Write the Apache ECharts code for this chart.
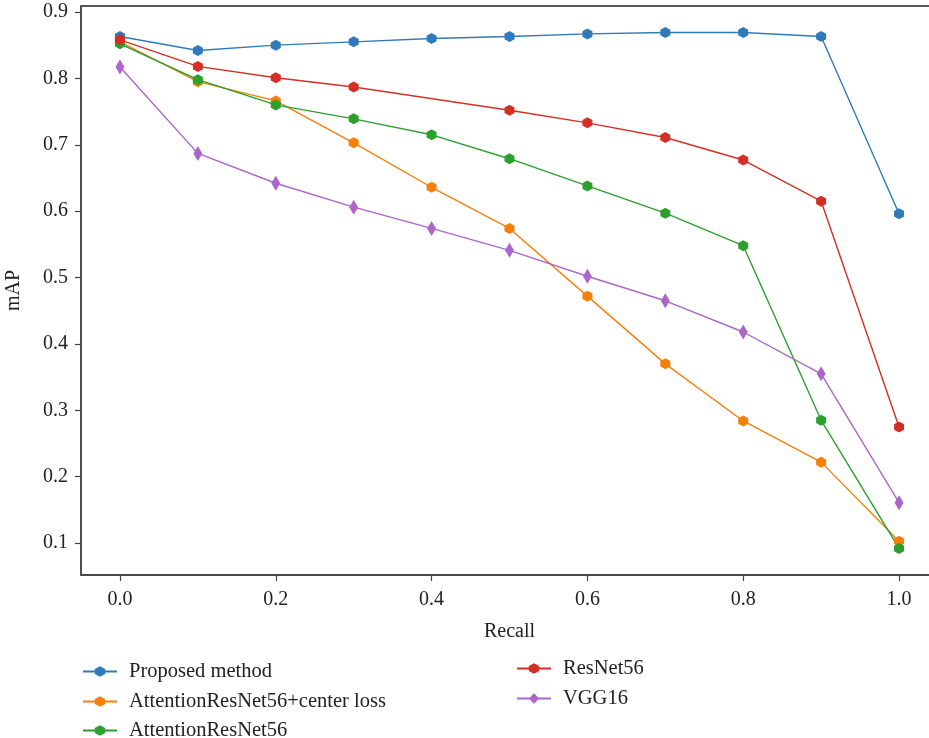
<!DOCTYPE html>
<html>
<head>
<meta charset="utf-8">
<script src="https://cdn.jsdelivr.net/npm/echarts@6/dist/echarts.min.js"></script>
<style>html,body{margin:0;padding:0;background:#fff;}#c{width:929px;height:738px;}</style>
</head>
<body>
<div id="c"></div>
<script>
const recall = [0.0, 0.1, 0.2, 0.3, 0.4, 0.5, 0.6, 0.7, 0.8, 0.9, 1.0];
const proposed = [0.863, 0.842, 0.850, 0.855, 0.860, 0.863, 0.867, 0.869, 0.869, 0.863, 0.596];
const attCenter = [0.855, 0.795, 0.766, 0.703, 0.636, 0.574, 0.472, 0.370, 0.284, 0.222, 0.103];
const attRes = [0.852, 0.798, 0.760, 0.739, 0.715, 0.679, 0.638, 0.597, 0.548, 0.285, 0.092];
// ResNet56 has no point at recall 0.4
const resnet = [0.858, 0.818, 0.801, 0.787, null, 0.752, 0.733, 0.711, 0.677, 0.615, 0.275];
const vgg = [0.817, 0.687, 0.642, 0.606, 0.574, 0.541, 0.502, 0.465, 0.418, 0.355, 0.161];
const xTicks = [0.0, 0.2, 0.4, 0.6, 0.8, 1.0];
const yTicks = [0.1, 0.2, 0.3, 0.4, 0.5, 0.6, 0.7, 0.8, 0.9];

const hex = 'path://M0,-1 L0.866,-0.5 L0.866,0.5 L0,1 L-0.866,0.5 L-0.866,-0.5 Z';
const dia = 'path://M0,-1 L0.55,0 L0,1 L-0.55,0 Z';
const FONT = '"Liberation Serif", "DejaVu Serif", serif';

function pairs(vals){
  const out = [];
  vals.forEach((v,i)=>{ if(v!==null) out.push([recall[i], v]); });
  return out;
}
function mk(name, vals, color, sym, size){
  return {
    name, type:'line', data: pairs(vals), symbol: sym, symbolSize: size,
    showSymbol:true, color: color,
    lineStyle:{width:1.4, color: color}, itemStyle:{color: color},
    emphasis:{disabled:true}, animation:false, z: 2
  };
}
function leg(name, left, top){
  return {data:[name], orient:'vertical', left:left, top:top, itemWidth:34, itemHeight:13,
    padding:0, textStyle:{fontFamily:FONT, fontSize:20.5, color:'#222', padding:[0,0,0,7]}};
}
const chart = echarts.init(document.getElementById('c'));
chart.setOption({
  animation:false,
  backgroundColor:'#fff',
  textStyle:{fontFamily: FONT},
  grid:{left:81, top:6, width:857, height:569, show:true, borderColor:'#222', borderWidth:1.3,
        backgroundColor:'transparent', outerBoundsMode:'none', containLabel:false},
  xAxis:{
    type:'value', min:-0.05, max:1.05,
    name:'Recall', nameLocation:'middle', nameGap:47,
    nameTextStyle:{fontFamily:FONT, fontSize:20, color:'#222'},
    axisLine:{show:true, onZero:false, lineStyle:{color:'#444', width:1.5}},
    axisTick:{show:true, customValues: xTicks, length:6, lineStyle:{color:'#444', width:1.2}},
    axisLabel:{customValues: xTicks, formatter: v => v.toFixed(1), margin:15, fontFamily:FONT, fontSize:20, color:'#222'},
    splitLine:{show:false}
  },
  yAxis:{
    type:'value', min:0.052, max:0.909,
    name:'mAP', nameLocation:'middle', nameGap:57, nameRotate:90,
    nameTextStyle:{fontFamily:FONT, fontSize:20, color:'#222'},
    axisLine:{show:true, onZero:false, lineStyle:{color:'#444', width:1.5}},
    axisTick:{show:true, customValues: yTicks, length:6, lineStyle:{color:'#444', width:1.2}},
    axisLabel:{customValues: yTicks, formatter: v => v.toFixed(1), margin:13, fontFamily:FONT, fontSize:20, color:'#222'},
    splitLine:{show:false}
  },
  legend:[
    leg('Proposed method', 82, 661),
    leg('AttentionResNet56+center loss', 82, 691),
    leg('AttentionResNet56', 82, 720),
    leg('ResNet56', 516, 658),
    leg('VGG16', 516, 688)
  ],
  series:[
    mk('Proposed method', proposed, '#2f7ab9', hex, [10,11]),
    mk('AttentionResNet56+center loss', attCenter, '#f77f0c', hex, [10,11]),
    mk('AttentionResNet56', attRes, '#2ca02c', hex, [10,11]),
    mk('ResNet56', resnet, '#d42f24', hex, [10,11]),
    mk('VGG16', vgg, '#ac66c9', dia, [9,15])
  ]
});
</script>
</body>
</html>
